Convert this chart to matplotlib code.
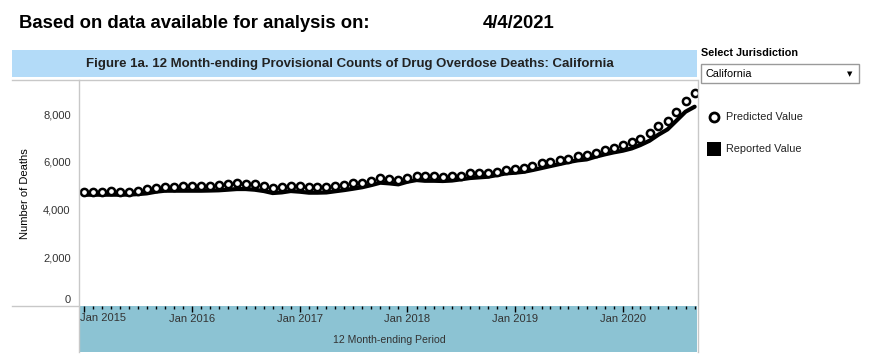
import numpy as np
import pandas as pd
import matplotlib
matplotlib.use("Agg")
import matplotlib.pyplot as plt
import matplotlib.dates as mdates
from matplotlib.patches import Rectangle
from matplotlib.lines import Line2D

plt.rcParams['font.family'] = ['Liberation Sans', 'DejaVu Sans']

# 12 month-ending periods, Jan 2015 .. Sep 2020
periods = pd.date_range("2015-01-01", "2020-09-01", freq="MS")

predicted = [
    4740, 4740, 4740, 4780, 4740, 4740, 4780, 4840, 4910, 4950, 4950, 4990,   # 2015
    4990, 4990, 4990, 5035, 5077, 5119, 5077, 5077, 4993, 4910, 4950, 4990,   # 2016
    4993, 4951, 4951, 4951, 4993, 5035, 5119, 5119, 5203, 5329, 5287, 5231,   # 2017
    5329, 5413, 5413, 5413, 5357, 5413, 5413, 5510, 5538, 5538, 5580, 5650,   # 2018
    5692, 5748, 5832, 5930, 6000, 6070, 6126, 6252, 6294, 6378, 6490, 6573,   # 2019
    6699, 6825, 6951, 7203, 7510, 7706, 8084, 8545, 8895,                     # 2020
]

reported = [
    4615, 4615, 4615, 4615, 4615, 4620, 4640, 4671, 4741, 4783, 4783, 4783,   # 2015
    4783, 4783, 4790, 4800, 4825, 4853, 4853, 4825, 4769, 4685, 4713, 4769,   # 2016
    4741, 4700, 4700, 4710, 4760, 4810, 4867, 4930, 5021, 5119, 5090, 5050,   # 2017
    5160, 5230, 5200, 5200, 5190, 5210, 5260, 5315, 5343, 5370, 5440, 5510,   # 2018
    5538, 5580, 5650, 5734, 5818, 5902, 5986, 6056, 6098, 6210, 6307, 6391,   # 2019
    6461, 6559, 6699, 6881, 7133, 7357, 7720, 8098, 8308,                     # 2020
]

yticks = [0, 2000, 4000, 6000, 8000]

W, H = 869, 358
fig = plt.figure(figsize=(W / 100, H / 100), dpi=100)


def fx(px):
    return px / W


def fy(py):
    return 1 - py / H


# header
fig.text(fx(19), fy(24), "Based on data available for analysis on:", fontsize=13.3,
         fontweight="bold", va="center", ha="left")
fig.text(fx(483), fy(24), "4/4/2021", fontsize=13.3, fontweight="bold", va="center", ha="left")

# title bar
fig.patches.append(Rectangle((fx(12), fy(77)), fx(697 - 12), (77 - 50) / H, zorder=-2,
                             transform=fig.transFigure, facecolor="#b3dbf8", edgecolor="none"))
fig.text(fx(350), fy(64), "Figure 1a. 12 Month-ending Provisional Counts of Drug Overdose Deaths: California",
         fontsize=9.5, fontweight="bold", ha="center", va="center", color="#222222")

# x-axis band
fig.patches.append(Rectangle((fx(79), fy(352)), fx(697 - 79), (352 - 306) / H, zorder=-2,
                             transform=fig.transFigure, facecolor="#8cc3d3", edgecolor="none"))

grey = "#c8c8c8"
fig.lines.append(Line2D([fx(12), fx(697)], [fy(80), fy(80)], transform=fig.transFigure, color=grey, lw=1))
fig.lines.append(Line2D([fx(12), fx(79)], [fy(306), fy(306)], transform=fig.transFigure, color=grey, lw=1))
fig.lines.append(Line2D([fx(79), fx(79)], [fy(80), fy(352)], transform=fig.transFigure, color=grey, lw=1))
fig.lines.append(Line2D([fx(698), fx(698)], [fy(80), fy(352)], transform=fig.transFigure, color=grey, lw=1))

ax = fig.add_axes([fx(79), fy(306), fx(697 - 79), (306 - 80) / H])
ax.patch.set_alpha(0)
ax.plot(periods, reported, color="black", lw=3, solid_capstyle="round", zorder=2)
ax.plot(periods, predicted, linestyle="none", marker="o", markersize=5.2, markerfacecolor="white",
        markeredgecolor="black", markeredgewidth=1.8, zorder=3)

ax.set_xlim(pd.Timestamp("2014-12-14"), pd.Timestamp("2020-09-09"))
ax.set_ylim(-55, 9429)
for s in ax.spines.values():
    s.set_visible(False)

ax.set_yticks(yticks)
ax.set_yticklabels([f"{v:,}" for v in yticks], fontsize=8, color="#333333")
ax.tick_params(axis="y", length=0, pad=6)
for lbl in ax.get_yticklabels():
    if lbl.get_text() == "0":
        lbl.set_va("bottom")

first_year = periods[0].year


def year_label(x, pos=None):
    d = mdates.num2date(x)
    # the first label is drawn separately, flush with the band edge
    return "" if d.year == first_year else d.strftime("Jan %Y")


ax.xaxis.set_major_locator(mdates.YearLocator())
ax.xaxis.set_major_formatter(plt.FuncFormatter(year_label))
ax.xaxis.set_minor_locator(mdates.MonthLocator())
ax.tick_params(axis="x", which="major", length=4, width=1, color="black", labelsize=8,
               labelcolor="#333333", pad=2)
ax.tick_params(axis="x", which="minor", length=2, width=1, color="black")
fig.text(fx(80), fy(318), periods[0].strftime("Jan %Y"), fontsize=8, color="#333333",
         ha="left", va="center")

fig.text(fx(25), fy(194), "Number of Deaths", fontsize=8, rotation=90, ha="center", va="center")
fig.text(fx(389), fy(340), "12 Month-ending Period", fontsize=7.6, color="#333333", ha="center", va="center")

# jurisdiction selector
fig.text(fx(701), fy(53), "Select Jurisdiction", fontsize=7.8, fontweight="bold", va="center", ha="left")
fig.patches.append(Rectangle((fx(701), fy(83)), fx(859 - 701), (83 - 64) / H,
                             transform=fig.transFigure, facecolor="white", edgecolor="#9a9a9a", lw=1))
fig.text(fx(705), fy(74), "California", fontsize=7.8, va="center", ha="left")
fig.text(fx(850), fy(74), "\u25bc", fontsize=5, va="center", ha="center", family=["DejaVu Sans"])

# legend
fig.lines.append(Line2D([fx(714)], [fy(117)], transform=fig.transFigure, marker="o", markersize=6.5,
                        markerfacecolor="white", markeredgecolor="black", markeredgewidth=2))
fig.text(fx(726), fy(117), "Predicted Value", fontsize=7.8, va="center", ha="left", color="#222222")
fig.patches.append(Rectangle((fx(707), fy(156)), fx(14), 14 / H, transform=fig.transFigure,
                             facecolor="black", edgecolor="none"))
fig.text(fx(726), fy(149), "Reported Value", fontsize=7.8, va="center", ha="left", color="#222222")

fig.savefig("out.png", dpi=100)
